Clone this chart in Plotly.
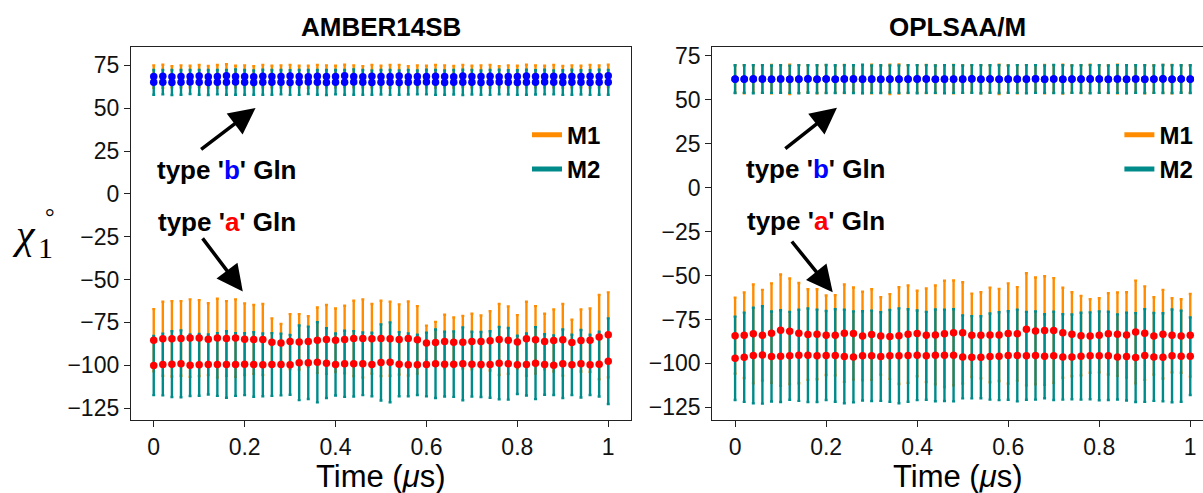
import plotly.graph_objects as go

# ---------------- data ----------------
time_us = [0.0, 0.02, 0.04, 0.06, 0.08, 0.1, 0.12, 0.14, 0.16, 0.18,
           0.2, 0.22, 0.24, 0.26, 0.28, 0.3, 0.32, 0.34, 0.36, 0.38,
           0.4, 0.42, 0.44, 0.46, 0.48, 0.5, 0.52, 0.54, 0.56, 0.58,
           0.6, 0.62, 0.64, 0.66, 0.68, 0.7, 0.72, 0.74, 0.76, 0.78,
           0.8, 0.82, 0.84, 0.86, 0.88, 0.9, 0.92, 0.94, 0.96, 0.98, 1.0]

# AMBER14SB
amber_m1_a_mean = [-85.4, -84.6, -84.6, -84.4, -84.2, -84.2, -84.8, -84.2, -84.4, -84.2,
                   -84.8, -85.0, -85.0, -86.6, -87.0, -86.2, -86.4, -86.2, -85.4, -85.0,
                   -85.4, -85.0, -84.4, -84.4, -84.6, -84.4, -84.6, -85.0, -84.4, -85.2,
                   -87.0, -86.8, -86.2, -86.6, -86.6, -86.2, -86.2, -85.8, -85.0, -85.4,
                   -86.4, -84.6, -85.2, -86.2, -85.6, -85.2, -86.8, -85.6, -85.4, -83.6, -82.3]
amber_m1_a_sd = [18.1, 21.6, 22.0, 21.8, 22.6, 22.2, 21.0, 23.0, 21.8, 22.6,
                 20.9, 20.1, 20.7, 13.9, 11.0, 16.0, 16.2, 14.8, 19.1, 20.1,
                 18.5, 19.7, 22.0, 22.8, 20.3, 22.0, 21.6, 20.5, 21.6, 19.7,
                 10.1, 12.1, 15.6, 14.4, 15.4, 16.2, 15.2, 17.3, 20.7, 19.7,
                 15.6, 21.6, 19.7, 16.2, 18.1, 20.9, 13.3, 18.1, 18.5, 24.6, 24.8]
amber_m2_a_mean = [-100.2, -99.6, -99.4, -99.2, -100.0, -99.8, -99.6, -99.6, -99.6, -99.6,
                   -99.4, -99.6, -99.8, -99.6, -99.6, -99.8, -98.6, -98.6, -98.3, -98.8,
                   -99.6, -99.2, -99.2, -99.2, -99.6, -98.4, -98.3, -99.4, -99.8, -99.8,
                   -99.6, -99.2, -99.4, -99.4, -99.2, -99.4, -99.6, -99.6, -98.8, -99.2,
                   -99.8, -99.6, -98.8, -99.6, -100.0, -99.2, -99.8, -99.2, -99.8, -99.4, -97.7]
amber_m2_a_sd = [17.3, 18.0, 19.2, 19.5, 18.0, 18.0, 17.5, 18.3, 19.4, 18.3,
                 18.1, 18.8, 18.3, 18.3, 18.0, 17.5, 21.8, 21.1, 23.4, 20.4,
                 18.1, 19.3, 19.1, 18.3, 18.5, 22.2, 23.3, 18.7, 18.3, 17.6,
                 18.6, 20.0, 18.9, 19.1, 21.3, 18.9, 19.0, 19.4, 21.1, 20.9,
                 17.0, 18.1, 21.0, 17.7, 17.4, 20.0, 17.6, 19.7, 17.6, 18.9, 25.0]
amber_m1_b_mean = [68.5, 68.7, 68.4, 68.6, 68.5, 68.8, 68.4, 68.6, 68.9, 68.5,
                   68.6, 68.4, 68.7, 68.5, 68.6, 68.8, 68.5, 68.4, 68.7, 68.6,
                   68.5, 68.9, 68.6, 68.4, 68.7, 68.5, 68.6, 68.8, 68.4, 68.6,
                   68.5, 68.7, 68.6, 68.4, 68.8, 68.5, 68.6, 68.7, 68.4, 68.6,
                   68.5, 68.8, 68.6, 68.5, 68.7, 68.4, 68.6, 68.5, 68.7, 68.6, 68.9]
amber_m1_b_sd = [6.5, 6.7, 6.2, 6.4, 6.3, 6.4, 6.3, 6.6, 6.8, 6.3,
                 6.4, 6.2, 6.5, 6.3, 6.4, 6.5, 6.3, 6.4, 6.6, 6.4,
                 6.3, 6.5, 6.4, 6.2, 6.5, 6.3, 6.6, 6.5, 6.2, 6.4,
                 6.3, 6.6, 6.4, 6.3, 6.5, 6.3, 6.4, 6.6, 6.2, 6.4,
                 6.3, 6.6, 6.4, 6.3, 6.5, 6.3, 6.4, 6.3, 6.6, 6.4, 6.5]
amber_m2_b_mean = [65.1, 65.2, 65.0, 65.1, 65.3, 65.1, 65.0, 65.2, 65.1, 65.3,
                   65.1, 65.0, 65.2, 65.1, 65.2, 65.0, 65.1, 65.3, 65.1, 65.0,
                   65.2, 65.1, 65.3, 65.1, 65.0, 65.2, 65.1, 65.0, 65.2, 65.1,
                   65.3, 65.1, 65.0, 65.2, 65.1, 65.2, 65.0, 65.1, 65.3, 65.1,
                   65.0, 65.2, 65.1, 65.3, 65.1, 65.0, 65.2, 65.1, 65.0, 65.2, 65.1]
amber_m2_b_sd = [7.2, 7.1, 7.3, 7.2, 7.0, 7.2, 7.3, 7.1, 7.2, 7.4,
                 7.2, 7.1, 7.3, 7.2, 7.1, 7.2, 7.3, 7.0, 7.2, 7.3,
                 7.1, 7.2, 7.4, 7.2, 7.1, 7.2, 7.3, 7.1, 7.2, 7.0,
                 7.2, 7.3, 7.1, 7.2, 7.4, 7.2, 7.1, 7.3, 7.2, 7.1,
                 7.2, 7.3, 7.1, 7.2, 7.0, 7.2, 7.3, 7.1, 7.2, 7.3, 7.2]

# OPLSAA/M
opls_m1_a_mean = [-84.2, -84.0, -83.2, -84.0, -82.8, -81.1, -81.7, -82.8, -83.6, -83.4,
                  -84.0, -84.0, -82.8, -83.0, -84.4, -83.6, -84.4, -84.7, -84.2, -83.4,
                  -83.0, -84.0, -83.8, -83.2, -82.6, -82.6, -84.0, -84.0, -83.8, -83.8,
                  -83.0, -83.2, -80.6, -81.5, -81.3, -81.3, -82.6, -83.4, -84.2, -84.4,
                  -84.0, -83.2, -83.4, -83.8, -82.1, -82.8, -84.4, -83.4, -84.0, -84.4, -84.0]
opls_m1_a_sd = [21.6, 24.3, 28.1, 25.8, 28.3, 31.7, 30.0, 28.5, 25.8, 25.6,
                22.6, 22.8, 27.7, 26.2, 25.2, 25.8, 22.0, 24.1, 27.5, 27.7,
                24.3, 26.6, 28.1, 30.2, 29.8, 28.8, 23.7, 24.5, 26.9, 26.2,
                28.5, 26.6, 31.9, 30.4, 30.9, 29.8, 25.6, 23.9, 22.6, 20.9,
                21.1, 23.1, 23.7, 24.3, 29.2, 26.6, 22.0, 25.2, 21.1, 20.9, 23.5]
opls_m2_a_mean = [-97.1, -96.5, -95.5, -95.2, -96.1, -95.9, -95.7, -95.4, -95.4, -95.7,
                  -95.5, -95.5, -96.1, -96.3, -95.7, -95.7, -96.1, -95.7, -95.7, -95.5,
                  -95.4, -95.7, -95.4, -95.4, -95.4, -96.3, -96.5, -96.5, -96.1, -95.9,
                  -95.5, -95.5, -95.7, -95.5, -95.9, -95.7, -96.3, -96.3, -95.9, -95.7,
                  -95.7, -95.7, -96.3, -96.1, -96.7, -95.5, -96.3, -96.5, -95.7, -95.9, -95.9]
opls_m2_a_sd = [23.7, 25.4, 27.2, 27.7, 25.6, 26.1, 25.0, 25.9, 26.6, 26.3,
                25.3, 26.3, 26.6, 25.9, 25.4, 25.7, 25.2, 26.1, 27.0, 26.3,
                25.5, 25.0, 26.1, 26.0, 26.2, 23.6, 23.4, 23.3, 24.5, 25.0,
                25.2, 26.1, 25.0, 25.1, 23.9, 25.1, 24.3, 24.1, 24.7, 24.7,
                25.3, 25.1, 24.2, 25.0, 25.3, 26.4, 25.0, 25.0, 26.4, 25.9, 22.1]
opls_m1_b_mean = [61.8, 61.7, 61.9, 61.8, 61.7, 61.8, 61.6, 61.8, 61.9, 61.7,
                  61.8, 61.7, 61.8, 61.9, 61.7, 61.8, 61.7, 61.6, 61.8, 61.7,
                  61.9, 61.8, 61.7, 61.8, 61.7, 61.8, 61.9, 61.7, 61.8, 61.6,
                  61.8, 61.7, 61.8, 61.9, 61.7, 61.8, 61.7, 61.8, 61.7, 61.9,
                  61.8, 61.7, 61.8, 61.6, 61.8, 61.7, 61.8, 61.9, 61.7, 61.8, 61.8]
opls_m1_b_sd = [7.8, 8.0, 7.7, 7.9, 8.1, 7.8, 8.4, 7.9, 7.8, 8.0,
                7.9, 7.7, 8.0, 7.8, 7.9, 8.1, 7.8, 8.4, 8.3, 7.9,
                7.8, 8.0, 7.9, 7.8, 8.1, 7.9, 7.8, 8.0, 7.9, 8.3,
                7.8, 8.0, 7.9, 7.8, 8.1, 7.9, 8.2, 7.8, 7.9, 8.0,
                7.8, 7.9, 8.1, 7.8, 7.9, 8.0, 7.8, 7.9, 8.1, 7.8, 7.9]
opls_m2_b_mean = [61.7, 61.8, 61.7, 61.8, 61.7, 61.8, 61.7, 61.7, 61.8, 61.7,
                  61.8, 61.7, 61.8, 61.7, 61.8, 61.7, 61.7, 61.8, 61.7, 61.8,
                  61.7, 61.8, 61.7, 61.7, 61.8, 61.7, 61.8, 61.7, 61.8, 61.7,
                  61.7, 61.8, 61.7, 61.8, 61.7, 61.8, 61.7, 61.7, 61.8, 61.7,
                  61.8, 61.7, 61.8, 61.7, 61.8, 61.7, 61.7, 61.8, 61.7, 61.8, 61.7]
opls_m2_b_sd = [7.9, 7.8, 8.0, 7.9, 7.8, 7.9, 7.7, 8.0, 7.8, 7.9,
                8.0, 7.9, 7.8, 7.9, 8.1, 7.8, 7.9, 7.7, 7.8, 7.9,
                8.0, 7.9, 7.8, 8.0, 7.9, 7.8, 7.9, 8.0, 7.8, 7.9,
                7.8, 7.9, 8.0, 7.9, 7.8, 8.0, 7.9, 7.8, 7.9, 8.0,
                7.9, 7.8, 7.9, 8.0, 7.8, 7.9, 7.8, 8.0, 7.9, 7.8, 7.9]

panel_titles = ["AMBER14SB", "OPLSAA/M"]
model_names = ["M1", "M2"]
x_tickvals = [0, 0.2, 0.4, 0.6, 0.8, 1.0]
x_ticktext = ["0", "0.2", "0.4", "0.6", "0.8", "1"]
y_tickvals = [75, 50, 25, 0, -25, -50, -75, -100, -125]
y_ticktext = ["75", "50", "25", "0", "\u221225", "\u221250", "\u221275", "\u2212100", "\u2212125"]

# ---------------- style ----------------
ORANGE = "#ff8c00"
TEAL = "#008b8b"
FONT = "Liberation Sans, Arial, sans-serif"

fig = go.Figure()

panels = [
    ("x", "y", amber_m1_a_mean, amber_m1_a_sd, amber_m1_b_mean, amber_m1_b_sd,
     amber_m2_a_mean, amber_m2_a_sd, amber_m2_b_mean, amber_m2_b_sd, "legend"),
    ("x2", "y2", opls_m1_a_mean, opls_m1_a_sd, opls_m1_b_mean, opls_m1_b_sd,
     opls_m2_a_mean, opls_m2_a_sd, opls_m2_b_mean, opls_m2_b_sd, "legend2"),
]

for (xa, ya, m1a, m1asd, m1b, m1bsd, m2a, m2asd, m2b, m2bsd, lg) in panels:
    # error bars: M1 (orange) first, then M2 (teal) on top
    for mean, sd, col in [(m1a, m1asd, ORANGE), (m1b, m1bsd, ORANGE),
                          (m2a, m2asd, TEAL), (m2b, m2bsd, TEAL)]:
        fig.add_trace(go.Scatter(
            x=time_us, y=mean, mode="markers", xaxis=xa, yaxis=ya,
            marker=dict(size=1, color="rgba(0,0,0,0)"),
            error_y=dict(type="data", array=sd, color=col, thickness=2.4, width=1.5),
            showlegend=False, hoverinfo="skip"))
    # markers on top
    for mean, col in [(m1a, "red"), (m2a, "red"), (m1b, "blue"), (m2b, "blue")]:
        fig.add_trace(go.Scatter(
            x=time_us, y=mean, mode="markers", xaxis=xa, yaxis=ya,
            marker=dict(size=7.5, color=col, line=dict(width=0)),
            showlegend=False, hoverinfo="skip"))
    # legend entries
    for name, col in zip(model_names, [ORANGE, TEAL]):
        fig.add_trace(go.Scatter(
            x=[None], y=[None], mode="lines", xaxis=xa, yaxis=ya,
            line=dict(color=col, width=5), name="<b>%s</b>" % name,
            legend=lg, showlegend=True))

axis_common = dict(
    showline=True, linecolor="#222222", linewidth=1.3, mirror=True,
    ticks="outside", ticklen=6, tickwidth=1.3, tickcolor="#222222",
    showgrid=False, zeroline=False, automargin=False,
    tickfont=dict(family=FONT, size=23, color="#111111"),
)

fig.update_layout(
    width=1203, height=493,
    margin=dict(l=131, r=0, t=47, b=73, autoexpand=False),
    paper_bgcolor="white", plot_bgcolor="white",
    font=dict(family=FONT, color="#111111"),
    xaxis=dict(domain=[0, 0.4664], range=[-0.05, 1.05], anchor="y",
               tickvals=x_tickvals, ticktext=x_ticktext, **axis_common),
    yaxis=dict(domain=[0, 1], range=[-132.0, 85.75], anchor="x",
               tickvals=y_tickvals, ticktext=y_ticktext, **axis_common),
    xaxis2=dict(domain=[0.5423, 1], range=[-0.05, 1.028], anchor="y2",
                tickvals=x_tickvals, ticktext=x_ticktext, **axis_common),
    yaxis2=dict(domain=[0, 1], range=[-132.2, 80.0], anchor="x2",
                tickvals=y_tickvals, ticktext=y_ticktext, **axis_common),
    legend=dict(x=0.3694, y=0.824, xanchor="left", yanchor="top",
                bgcolor="rgba(0,0,0,0)", borderwidth=0,
                font=dict(family=FONT, size=24, color="#000000"), tracegroupgap=0),
    legend2=dict(x=0.922, y=0.824, xanchor="left", yanchor="top",
                 bgcolor="rgba(0,0,0,0)", borderwidth=0,
                 font=dict(family=FONT, size=24, color="#000000"), tracegroupgap=0),
    showlegend=True,
)

annotations = []
# panel titles and x-axis titles
for xd, t in zip(["x domain", "x2 domain"], panel_titles):
    annotations.append(dict(text="<b>%s</b>" % t, xref=xd, yref="paper", x=0.5, y=1.0,
                            xanchor="center", yanchor="bottom", yshift=3, showarrow=False,
                            font=dict(family=FONT, size=26, color="#000000")))
    annotations.append(dict(text="Time (<i>\u03bc</i>s)", xref=xd, yref="paper", x=0.5, y=0,
                            xanchor="center", yanchor="middle", yshift=-56, showarrow=False,
                            borderpad=0,
                            font=dict(family=FONT, size=31, color="#000000")))

# text labels and arrows
label_b = "<b>type '<span style='color:blue'>b</span>' Gln</b>"
label_a = "<b>type '<span style='color:red'>a</span>' Gln</b>"
text_specs = [
    ("x", "y", 0.1615, 14.1, -16.3,
     (0.101, 25.3, 0.224, 50.1), (0.105, -25.1, 0.196, -57.0)),
    ("x2", "y2", 0.1775, 10.7, -19.0,
     (0.107, 21.5, 0.2238, 45.4), (0.122, -29.8, 0.2145, -59.5)),
]
for xa, ya, tx, tyb, tya, arrb, arra in text_specs:
    for lab, ty in [(label_b, tyb), (label_a, tya)]:
        annotations.append(dict(text=lab, xref=xa, yref=ya, x=tx, y=ty,
                                xanchor="center", yanchor="middle", showarrow=False,
                                font=dict(family=FONT, size=26, color="#000000")))
    for (ax_, ay_, hx, hy) in [arrb, arra]:
        annotations.append(dict(text="", xref=xa, yref=ya, x=hx, y=hy,
                                axref=xa, ayref=ya, ax=ax_, ay=ay_,
                                showarrow=True, arrowhead=2, arrowsize=1.5,
                                arrowwidth=3.5, arrowcolor="#000000", standoff=0))

# y-axis label chi_1 degree
annotations.append(dict(text="<i>\u03c7</i>", xref="paper", yref="paper", x=-0.1, y=0.5,
                        xanchor="center", yanchor="middle", showarrow=False,
                        font=dict(family="Liberation Serif, serif", size=42, color="#000000")))
annotations.append(dict(text="1", xref="paper", yref="paper", x=-0.0795, y=0.462,
                        xanchor="center", yanchor="middle", showarrow=False,
                        font=dict(family="Liberation Serif, serif", size=30, color="#000000")))
annotations.append(dict(text="\u00b0", xref="paper", yref="paper", x=-0.0755, y=0.545,
                        xanchor="center", yanchor="middle", showarrow=False,
                        font=dict(family="Liberation Serif, serif", size=24, color="#000000")))

fig.update_layout(annotations=annotations)

fig.write_html("out.html",
               config={"displayModeBar": False},
               post_script="document.body.style.margin='0px';document.body.style.padding='0px';")
